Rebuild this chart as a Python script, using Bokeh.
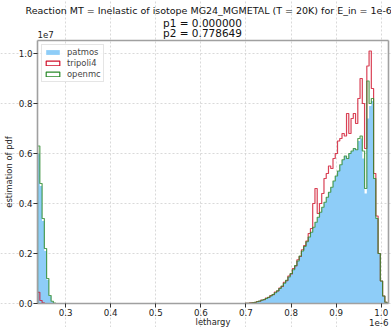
import math
import numpy as np
from bokeh.plotting import figure
from bokeh.models import (Range1d, FixedTicker, PrintfTickFormatter, Legend,
                          LegendItem, Label, LinearAxis, ColumnDataSource)
from bokeh.embed import file_html
from bokeh.resources import INLINE

FONT = "DejaVu Sans"

title_lines = [
    "Reaction MT = Inelastic of isotope MG24_MGMETAL (T = 20K) for E_in = 1e-6",
    "p1 = 0.000000",
    "p2 = 0.778649",
]
x_scale_text = "1e-6"
y_scale_text = "1e7"

# lethargy in units of 1e-6, pdf in units of 1e7
bin_width = 0.005
left_start = 0.238
right_start = 0.698

left_patmos = [0.60, 0.47, 0.33, 0.21, 0.095, 0.030, 0.008, 0.002, 0.0]
left_tripoli4 = [0.045, 0.012, 0.003, 0.0, 0.0, 0.0, 0.0, 0.0, 0.0]
left_openmc = [0.63, 0.48, 0.34, 0.22, 0.100, 0.032, 0.009, 0.002, 0.0]

right_patmos = [
    0.0005, 0.001, 0.002, 0.003, 0.005, 0.007, 0.010, 0.013, 0.016, 0.020,
    0.025, 0.030, 0.036, 0.043, 0.051, 0.060, 0.070, 0.081, 0.093, 0.106,
    0.120, 0.135, 0.152, 0.170, 0.190, 0.210, 0.228, 0.247, 0.266, 0.285,
    0.305, 0.325, 0.345, 0.365, 0.385, 0.405, 0.425, 0.445, 0.465, 0.49,
    0.51, 0.53, 0.555, 0.575, 0.59, 0.58, 0.60, 0.61, 0.62, 0.615,
    0.65, 0.66, 0.58, 0.44, 0.74, 0.79, 0.81, 0.50, 0.34, 0.20,
    0.09, 0.03, 0.005]
right_tripoli4 = [
    0.001, 0.001, 0.003, 0.004, 0.004, 0.008, 0.009, 0.014, 0.015, 0.022,
    0.024, 0.032, 0.035, 0.046, 0.050, 0.062, 0.068, 0.085, 0.091, 0.110,
    0.118, 0.140, 0.150, 0.175, 0.188, 0.215, 0.232, 0.250, 0.28, 0.30,
    0.40, 0.46, 0.36, 0.40, 0.44, 0.50, 0.52, 0.55, 0.54, 0.58,
    0.60, 0.65, 0.66, 0.68, 0.67, 0.76, 0.68, 0.74, 0.76, 0.72,
    0.82, 0.90, 0.80, 0.62, 0.95, 1.01, 0.86, 0.52, 0.35, 0.20,
    0.09, 0.03, 0.005]
right_openmc = [
    0.0005, 0.001, 0.002, 0.003, 0.005, 0.007, 0.010, 0.013, 0.016, 0.020,
    0.025, 0.030, 0.036, 0.043, 0.051, 0.060, 0.070, 0.081, 0.093, 0.106,
    0.120, 0.135, 0.152, 0.170, 0.190, 0.210, 0.228, 0.247, 0.266, 0.285,
    0.305, 0.325, 0.345, 0.365, 0.385, 0.405, 0.425, 0.445, 0.465, 0.49,
    0.51, 0.53, 0.555, 0.575, 0.59, 0.58, 0.60, 0.61, 0.62, 0.615,
    0.66, 0.67, 0.61, 0.46, 0.89, 0.80, 0.82, 0.50, 0.34, 0.20,
    0.09, 0.03, 0.005]

x_ticks = [0.3, 0.4, 0.5, 0.6, 0.7, 0.8, 0.9, 1.0]
y_ticks = [0.0, 0.2, 0.4, 0.6, 0.8, 1.0]

# axes limits
x_lo, x_hi = 0.2378, 1.016
y_lo, y_hi = 0.0, 1.052

edges_left = [round(left_start + i * bin_width, 4) for i in range(len(left_patmos) + 1)]
edges_right = [round(right_start + i * bin_width, 4) for i in range(len(right_patmos) + 1)]
edges = edges_left + edges_right
patmos = left_patmos + [0.0] + right_patmos
tripoli4 = left_tripoli4 + [0.0] + right_tripoli4
openmc = left_openmc + [0.0] + right_openmc

# ---- layout: the frame spans the whole canvas, axes are fixed inside ----
W, H = 391, 327
AX_LEFT, AX_BOTTOM = 37, 303           # pixel position of the axes box
PPX, PPY = 451.0, 250.0                # pixels per data unit
x_start = x_lo - AX_LEFT / PPX
x_end = x_start + W / PPX
y_start = y_lo - (H - AX_BOTTOM) / PPY
y_end = y_start + H / PPY

def X(px):
    return x_start + px / PPX

def Y(py):
    return y_end - py / PPY

p = figure(width=W, height=H, output_backend="svg", toolbar_location=None,
           x_range=Range1d(x_start, x_end), y_range=Range1d(y_start, y_end),
           min_border=0, min_border_left=0, min_border_right=0,
           min_border_top=0, min_border_bottom=0)
p.background_fill_color = "white"
p.border_fill_color = "white"
p.outline_line_color = None

BLUE = "#8ecdf8"
RED = "#d0112b"
GREEN = "#2a8a2a"

r_pat = p.varea_step(x=edges, y1=[0.0] * len(edges), y2=patmos + [patmos[-1]],
                     step_mode="after", fill_color=BLUE)

def step_xy(vals):
    xs = [edges[0]] + edges
    ys = [0.0] + vals + [0.0]
    return xs, ys

xs, ys = step_xy(tripoli4)
p.step(xs, ys, mode="after", line_color=RED, line_width=1.2, line_alpha=0.8)
xs, ys = step_xy(openmc)
p.step(xs, ys, mode="after", line_color=GREEN, line_width=1.2, line_alpha=0.8)

# axes
xaxis = p.xaxis[0]
yaxis = p.yaxis[0]
xaxis.fixed_location = y_lo
yaxis.fixed_location = x_lo
xaxis.bounds = (x_lo, x_hi)
yaxis.bounds = (y_lo, y_hi)

for ax in (xaxis, yaxis):
    ax.axis_label_text_font = FONT
    ax.axis_label_text_font_size = "8.4px"
    ax.axis_label_text_font_style = "normal"
    ax.axis_label_text_color = "#222222"
    ax.major_label_text_font = FONT
    ax.major_label_text_font_size = "8.7px"
    ax.major_label_text_color = "#222222"
    ax.major_tick_out = 4
    ax.major_tick_in = 0
    ax.minor_tick_line_color = None
    ax.axis_line_color = "#a0a0a0"
    ax.axis_line_width = 1.6
    ax.major_tick_line_color = "#333333"
    ax.formatter = PrintfTickFormatter(format="%.1f")

xaxis.ticker = FixedTicker(ticks=x_ticks)
yaxis.ticker = FixedTicker(ticks=y_ticks)
xaxis.axis_label = "lethargy"
yaxis.axis_label = "estimation of pdf"
xaxis.major_label_standoff = 1
yaxis.major_label_standoff = 1
xaxis.axis_label_standoff = -2
yaxis.axis_label_standoff = 2

# top and right spines
top = LinearAxis(fixed_location=y_hi, bounds=(x_lo, x_hi), ticker=FixedTicker(ticks=[]),
                 axis_line_color="#a0a0a0", axis_line_width=1.6,
                 major_tick_line_color=None, minor_tick_line_color=None,
                 major_label_text_color=None)
right = LinearAxis(fixed_location=x_hi, bounds=(y_lo, y_hi), ticker=FixedTicker(ticks=[]),
                   axis_line_color="#a0a0a0", axis_line_width=1.6,
                   major_tick_line_color=None, minor_tick_line_color=None,
                   major_label_text_color=None)
p.add_layout(top, "above")
p.add_layout(right, "right")

p.xgrid.bounds = (y_lo, y_hi)
p.ygrid.bounds = (x_lo, x_hi)
p.grid.grid_line_color = "#cfcfcf"
p.grid.grid_line_dash = "2 2"
p.grid.grid_line_width = 0.8

# legend proxies (NaN geometry, only their styles are used)
proxy = ColumnDataSource(dict(l=[math.nan], r=[math.nan], t=[math.nan], b=[math.nan]))
lg_pat = p.quad(left="l", right="r", top="t", bottom="b", source=proxy,
                fill_color=BLUE, line_color=None)
lg_tri = p.quad(left="l", right="r", top="t", bottom="b", source=proxy,
                fill_color="white", line_color=RED, line_width=1.2)
lg_omc = p.quad(left="l", right="r", top="t", bottom="b", source=proxy,
                fill_color="white", line_color=GREEN, line_width=1.2)

legend = Legend(items=[LegendItem(label="patmos", renderers=[lg_pat]),
                       LegendItem(label="tripoli4", renderers=[lg_tri]),
                       LegendItem(label="openmc", renderers=[lg_omc])],
                location=(41, H - 82))
legend.label_text_font = FONT
legend.label_text_font_size = "8.4px"
legend.glyph_width = 17
legend.glyph_height = 6
legend.label_height = 8
legend.spacing = 1
legend.padding = 2
legend.margin = 0
legend.label_standoff = 6
legend.border_line_color = "#cccccc"
legend.background_fill_alpha = 0.85
p.add_layout(legend)

# texts
p.add_layout(Label(x=X(25), y=Y(10), text=title_lines[0], text_font=FONT,
                   text_font_size="9.5px", text_baseline="alphabetic",
                   text_align="left", text_color="#111111"))
p.add_layout(Label(x=X(202), y=Y(22.5), text=title_lines[1], text_font=FONT,
                   text_font_size="10.5px", text_baseline="alphabetic",
                   text_align="center", text_color="#111111"))
p.add_layout(Label(x=X(202), y=Y(32.5), text=title_lines[2], text_font=FONT,
                   text_font_size="10.5px", text_baseline="alphabetic",
                   text_align="center", text_color="#111111"))
p.add_layout(Label(x=X(37), y=Y(33.5), text=y_scale_text, text_font=FONT,
                   text_font_size="8.7px", text_baseline="alphabetic",
                   text_align="left", text_color="#222222"))
p.add_layout(Label(x=X(388), y=Y(322), text=x_scale_text, text_font=FONT,
                   text_font_size="8.7px", text_baseline="alphabetic",
                   text_align="right", text_color="#222222"))

open("out.html", "w").write(file_html(p, INLINE))
